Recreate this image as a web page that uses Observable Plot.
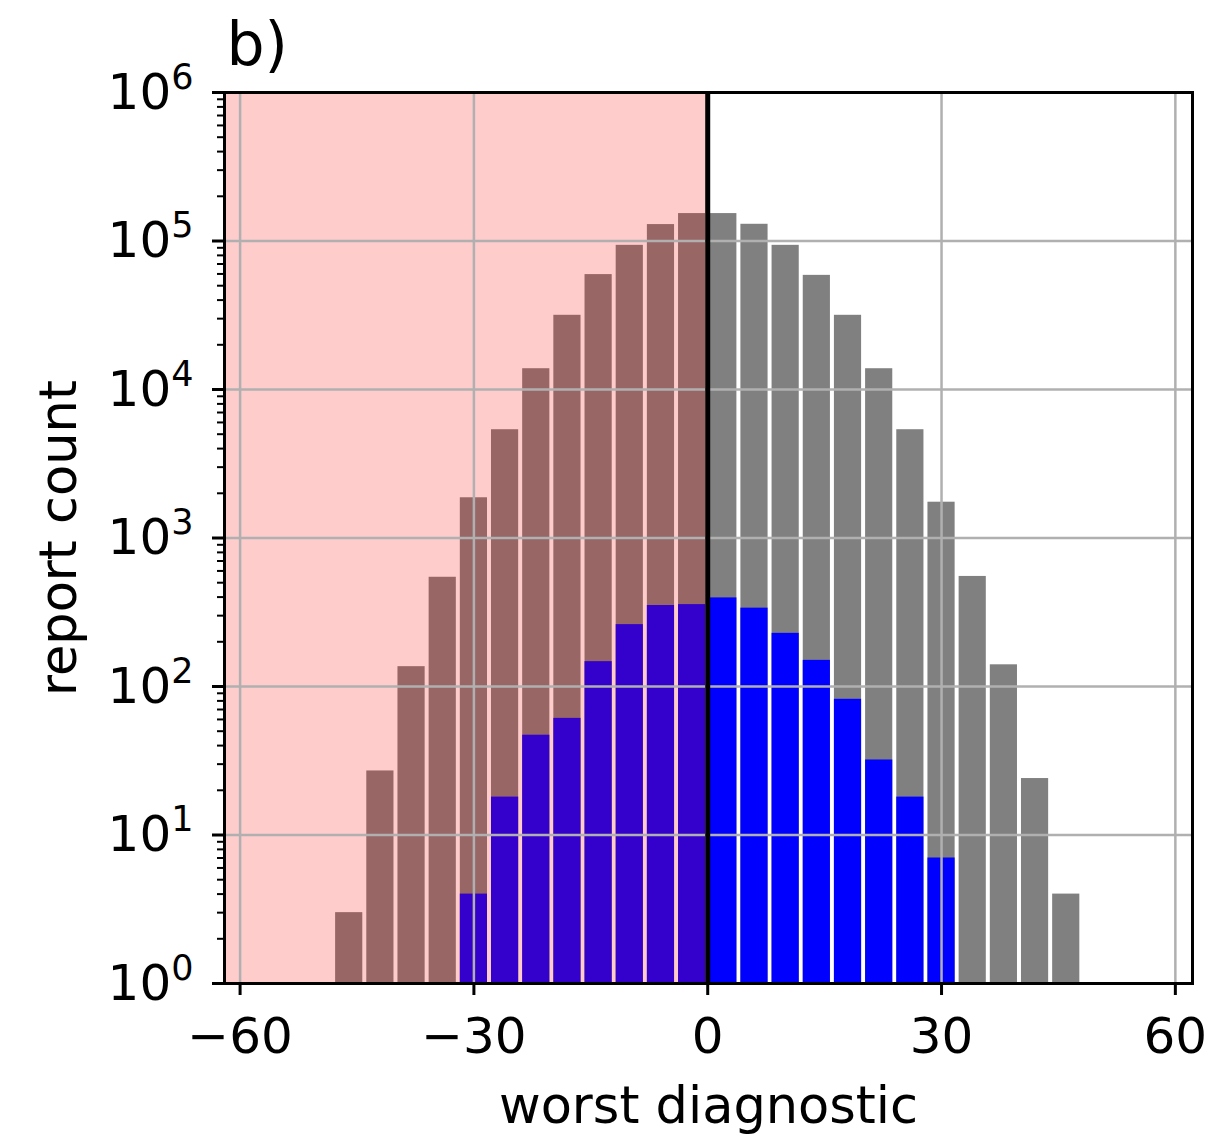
<!DOCTYPE html>
<html>
<head>
<meta charset="utf-8">
<script src="https://cdn.jsdelivr.net/npm/d3@7"></script>
<script src="https://cdn.jsdelivr.net/npm/@observablehq/plot@0.6"></script>
<style>
  html, body { margin: 0; padding: 0; background: white; }
</style>
</head>
<body>
<div id="chart"></div>
<script>
// ---- data ----
const panelLabel = "b)";
const xLabel = "worst diagnostic";
const yLabel = "report count";
const binWidth = 4;
const binStarts = [-48, -44, -40, -36, -32, -28, -24, -20, -16, -12, -8, -4, 0, 4, 8, 12, 16, 20, 24, 28, 32, 36, 40, 44];
const allCounts = [3, 27, 136, 544, 1866, 5360, 13800, 31600, 59400, 93500, 129000, 153000,
                   153000, 129600, 93500, 58700, 31600, 13800, 5360, 1742, 551, 140, 24, 4];
const subsetStarts = [-32, -28, -24, -20, -16, -12, -8, -4, 0, 4, 8, 12, 16, 20, 24, 28];
const subsetCounts = [4, 18, 47, 61, 147, 261, 351, 356, 395, 337, 228, 150, 82, 32, 18, 7];
const xTicks = [-60, -30, 0, 30, 60];
const yTicks = [1, 10, 100, 1000, 10000, 100000, 1000000];
const xDomain = [-62, 62.2];
const yDomain = [1, 1000000];

// ---- tables ----
const allBars = binStarts.map((s, i) => ({x1: s, x2: s + binWidth, count: allCounts[i]}));
const subsetBars = subsetStarts.map((s, i) => ({x1: s, x2: s + binWidth, count: subsetCounts[i]}));
const shade = [{x1: xDomain[0], x2: 0}];
const yMinor = [];
for (let k = 0; k < 6; k++) for (let m = 2; m <= 9; m++) yMinor.push(m * Math.pow(10, k));
const sup = d => "10^" + Math.round(Math.log10(d));
const fmtX = d => d < 0 ? "\u2212" + Math.abs(d) : String(d);

const chart = Plot.plot({
  width: 1220,
  height: 1142,
  marginTop: 92,
  marginBottom: 159,
  marginLeft: 224,
  marginRight: 28,
  style: {fontFamily: "DejaVu Sans", fontSize: "50px", background: "white", color: "black"},
  x: {domain: xDomain},
  y: {type: "log", domain: yDomain},
  marks: [
    Plot.rectY(allBars, {x1: "x1", x2: "x2", y1: yDomain[0], y2: "count", fill: "#808080", insetLeft: 2, insetRight: 2}),
    Plot.rectY(subsetBars, {x1: "x1", x2: "x2", y1: yDomain[0], y2: "count", fill: "#0000ff", insetLeft: 2, insetRight: 2}),
    Plot.rect(shade, {x1: "x1", x2: "x2", fill: "red", fillOpacity: 0.2}),
    Plot.gridX(xTicks, {stroke: "#b0b0b0", strokeOpacity: 1, strokeWidth: 2.5}),
    Plot.gridY(yTicks, {stroke: "#b0b0b0", strokeOpacity: 1, strokeWidth: 2.5}),
    Plot.ruleX([0], {stroke: "black", strokeWidth: 5}),
    Plot.frame({stroke: "black", strokeWidth: 3}),
    Plot.axisX(xTicks, {tickSize: 12, tickPadding: 22, strokeWidth: 3, tickFormat: fmtX, fontSize: 50, label: null}),
    Plot.axisY(yMinor, {tickSize: 7, strokeWidth: 2, fill: "none", label: null}),
    Plot.axisY(yTicks, {tickSize: 12, tickPadding: 19, strokeWidth: 3, tickFormat: sup, fontSize: 50, label: null}),
    Plot.text([xLabel], {frameAnchor: "bottom", lineAnchor: "top", dy: 103, fontSize: 51}),
    Plot.text([yLabel], {frameAnchor: "left", textAnchor: "middle", rotate: -90, dx: -165, fontSize: 51}),
    Plot.text([panelLabel], {frameAnchor: "top-left", textAnchor: "start", lineAnchor: "top", dx: 2, dy: -70, fontSize: 60})
  ]
});

// superscript exponents on log tick labels
d3.select(chart).selectAll('g[aria-label="y-axis tick label"] text').each(function () {
  const t = this.textContent;
  if (!t.includes("^")) return;
  const [base, exp] = t.split("^");
  const sel = d3.select(this);
  sel.text(null);
  sel.append("tspan").text(base);
  sel.append("tspan").attr("font-size", "0.7em").attr("dy", "-0.57em").text(exp);
});

document.getElementById("chart").appendChild(chart);
</script>
</body>
</html>
